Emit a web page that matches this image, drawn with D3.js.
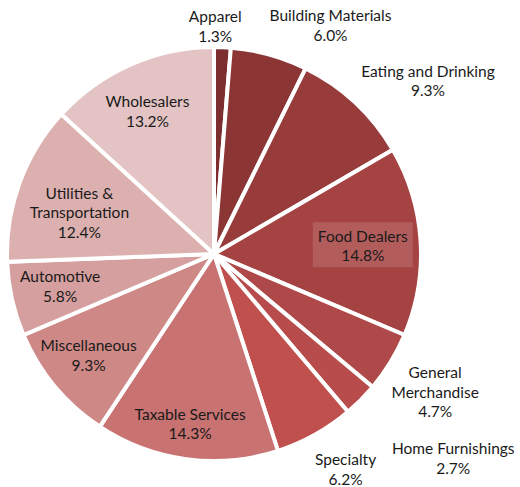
<!DOCTYPE html>
<html><head><meta charset="utf-8">
<script src="https://cdn.jsdelivr.net/npm/d3@7/dist/d3.min.js"></script>
<style>html,body{margin:0;padding:0;background:#fff;}svg{display:block;}</style>
</head><body>
<svg id="chart" width="520" height="487"></svg>
<script>
const categories = ["Apparel","Building Materials","Eating and Drinking","Food Dealers","General Merchandise","Home Furnishings","Specialty","Taxable Services","Miscellaneous","Automotive","Utilities & Transportation","Wholesalers"];
const values = [1.3, 6.0, 9.3, 14.8, 4.7, 2.7, 6.2, 14.3, 9.3, 5.8, 12.4, 13.2];
const labelLines = [["Apparel"],["Building Materials"],["Eating and Drinking"],["Food Dealers"],["General","Merchandise"],["Home Furnishings"],["Specialty"],["Taxable Services"],["Miscellaneous"],["Automotive"],["Utilities &","Transportation"],["Wholesalers"]];
const colors = ["#7D2F2F","#8B3535","#973B3B","#A54343","#AF4848","#B84C4C","#C0504D","#C87271","#CE8886","#D49F9E","#DBB0AF","#E3C3C3"];
// label layout: [angle in degrees clockwise from top, distance as fraction of radius]
const labelPolar = [[0.3,1.10],[27,1.24],[51,1.33],[87,0.72],[122,1.26],[130.5,1.52],[148.6,1.22],[188,0.83],[231,0.78],[258,0.76],[287,0.68],[335,0.76]];

const W = 520, H = 487, cx = 214, cy = 254, R = 207;
const svg = d3.select("#chart");
const g = svg.append("g").attr("transform", `translate(${cx},${cy})`);
const pie = d3.pie().sort(null).value(d => d);
const arcs = pie(values);
const arc = d3.arc().innerRadius(0).outerRadius(R);

g.selectAll("path.slice").data(arcs).enter().append("path")
  .attr("class","slice")
  .attr("d", arc)
  .attr("fill", (d,i) => colors[i])
  .attr("stroke", "#fff")
  .attr("stroke-width", 4)
  .attr("stroke-linejoin", "miter");

const lineH = 19.5;
const fontFamily = "Lato, 'Open Sans', sans-serif";
arcs.forEach((d, i) => {
  const [deg, f] = labelPolar[i];
  const a = deg * Math.PI / 180;
  const x = Math.sin(a) * R * f, y = -Math.cos(a) * R * f;
  const lines = labelLines[i].concat([values[i].toFixed(1) + "%"]);
  const n = lines.length;
  if (categories[i] === "Food Dealers") {
    g.append("rect").attr("x", x - 50).attr("y", y - 24).attr("width", 100).attr("height", 45)
      .attr("fill", "#B35C5C");
  }
  const t = g.append("text").attr("text-anchor","middle")
    .attr("font-family", fontFamily).attr("font-size", 15.5).attr("fill","#1a1a1a");
  lines.forEach((s, j) => {
    t.append("tspan").attr("x", x).attr("y", y + (j - (n - 1) / 2) * lineH + 5.5).text(s);
  });
});
</script>
</body></html>
